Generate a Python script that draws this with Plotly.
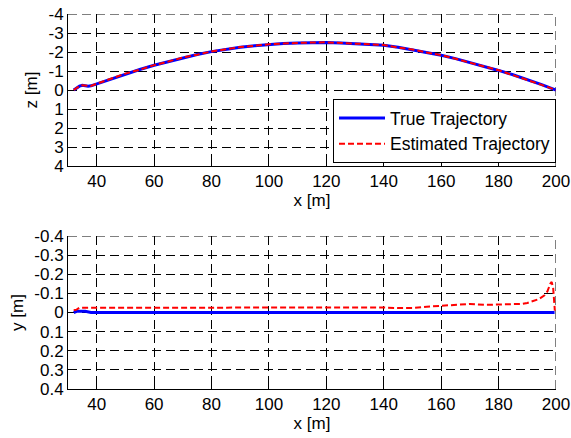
import plotly.graph_objects as go
from plotly.subplots import make_subplots

# ---- data: top panel (x vs z) ----
x_top = [32, 33, 34, 35, 36, 37, 38, 40, 45, 50, 55, 60, 65, 70, 75, 80, 85, 90, 95, 100,
         105, 110, 115, 120, 125, 130, 135, 140, 145, 150, 155, 160, 165, 170, 175, 180,
         185, 190, 195, 200]
z_true = [0.0, -0.1, -0.2, -0.25, -0.22, -0.2, -0.22, -0.32, -0.6, -0.85, -1.08, -1.3,
          -1.5, -1.7, -1.87, -2.02, -2.15, -2.25, -2.33, -2.4, -2.45, -2.48, -2.5, -2.5,
          -2.48, -2.45, -2.42, -2.36, -2.25, -2.12, -1.98, -1.83, -1.65, -1.45, -1.25,
          -1.03, -0.8, -0.55, -0.28, 0.0]
z_est = [0.0, -0.11, -0.21, -0.25, -0.23, -0.2, -0.21, -0.33, -0.6, -0.86, -1.07, -1.31,
         -1.5, -1.71, -1.86, -2.03, -2.14, -2.26, -2.33, -2.41, -2.45, -2.49, -2.5, -2.51,
         -2.49, -2.44, -2.41, -2.37, -2.24, -2.13, -1.97, -1.84, -1.64, -1.46, -1.24,
         -1.04, -0.79, -0.56, -0.27, 0.0]

# ---- data: bottom panel (x vs y) ----
x_bot_true = [32, 33, 36, 37.5, 38, 199.5]
y_true = [0.0, -0.006, -0.006, -0.004, 0.0, 0.0]
x_bot_est = [32, 33, 34, 40, 60, 80, 100, 120, 130, 140, 145, 150, 155, 160, 165, 170, 175,
             180, 185, 188, 190, 192, 194, 196, 197, 198, 198.5, 199, 199.3, 199.6]
y_est = [-0.012, -0.015, -0.025, -0.025, -0.026, -0.025, -0.025, -0.026, -0.028, -0.026,
         -0.023, -0.024, -0.03, -0.035, -0.038, -0.045, -0.04, -0.042, -0.042, -0.045,
         -0.05, -0.06, -0.07, -0.09, -0.11, -0.15, -0.16, -0.13, -0.06, -0.01]

# ---- tick labels ----
x_ticks = [40, 60, 80, 100, 120, 140, 160, 180, 200]
z_ticks = [-4, -3, -2, -1, 0, 1, 2, 3, 4]
z_ticktext = ["-4", "-3", "-2", "-1", "0", "1", "2", "3", "4"]
y_ticks = [-0.4, -0.3, -0.2, -0.1, 0, 0.1, 0.2, 0.3, 0.4]
y_ticktext = ["-0.4", "-0.3", "-0.2", "-0.1", "0", "0.1", "0.2", "0.3", "0.4"]
x_range = [30, 200]
z_range = [4, -4]
y_range = [0.4, -0.4]

W, H = 571, 438
ml, mr, mt, mb = 68, 15, 14, 49
ph = H - mt - mb
DASH = "9px,5px"

fig = make_subplots(rows=2, cols=1)
blue = "#0000ff"
red = "#ff0000"

fig.add_trace(go.Scatter(x=x_top, y=z_true, mode="lines", name="True Trajectory",
                         line=dict(color=blue, width=3)), row=1, col=1)
fig.add_trace(go.Scatter(x=x_top, y=z_est, mode="lines", name="Estimated Trajectory",
                         line=dict(color=red, width=2, dash="6px,3px")), row=1, col=1)
fig.add_trace(go.Scatter(x=x_bot_true, y=y_true, mode="lines", showlegend=False,
                         line=dict(color=blue, width=3)), row=2, col=1)
fig.add_trace(go.Scatter(x=x_bot_est, y=y_est, mode="lines", showlegend=False,
                         line=dict(color=red, width=2, dash="6px,3px")), row=2, col=1)

font = dict(family="Liberation Sans, Arial, sans-serif", size=17, color="black")
legend_font = dict(family="Liberation Sans, Arial, sans-serif", size=17.5, color="black")
axis_common = dict(showline=True, linecolor="black", linewidth=1, mirror=False,
                   showgrid=True, gridcolor="black", gridwidth=1, griddash=DASH,
                   zeroline=False, ticks="inside", ticklen=5, tickcolor="black",
                   tickfont=font, automargin=False)

top_dom = [(H - mb - 166) / ph, 1.0]
bot_dom = [0.0, (H - mb - 236) / ph]

# edge grid lines (top and right) that plotly omits at range ends
for xr, yr, yrng in (("x", "y", z_range), ("x2", "y2", y_range)):
    fig.add_shape(type="line", xref=xr, yref=yr, x0=x_range[0], x1=x_range[1],
                  y0=yrng[1], y1=yrng[1], line=dict(color="black", width=1, dash=DASH),
                  layer="below")
    fig.add_shape(type="line", xref=xr, yref=yr, x0=x_range[1], x1=x_range[1],
                  y0=yrng[0], y1=yrng[1], line=dict(color="black", width=1, dash=DASH),
                  layer="below")

fig.update_layout(
    width=W, height=H,
    margin=dict(l=ml, r=mr, t=mt, b=mb),
    paper_bgcolor="white", plot_bgcolor="white",
    font=font,
    xaxis=dict(axis_common, range=x_range, tickvals=x_ticks, domain=[0, 1],
               title=dict(text="x [m]", font=font, standoff=2), anchor="y"),
    yaxis=dict(axis_common, range=z_range, tickvals=z_ticks, ticktext=z_ticktext,
               domain=top_dom, title=dict(text="z [m]", font=font, standoff=6), anchor="x"),
    xaxis2=dict(axis_common, range=x_range, tickvals=x_ticks, domain=[0, 1],
                title=dict(text="x [m]", font=font, standoff=2), anchor="y2"),
    yaxis2=dict(axis_common, range=y_range, tickvals=y_ticks, ticktext=y_ticktext,
                domain=bot_dom, title=dict(text="y [m]", font=font, standoff=6), anchor="x2"),
    legend=dict(x=1.0, xanchor="right", y=(H - mb - 99) / ph, yanchor="top",
                bgcolor="white", bordercolor="black", borderwidth=1,
                font=legend_font, itemwidth=46),
    showlegend=True,
)

fig.write_html("out.html")
